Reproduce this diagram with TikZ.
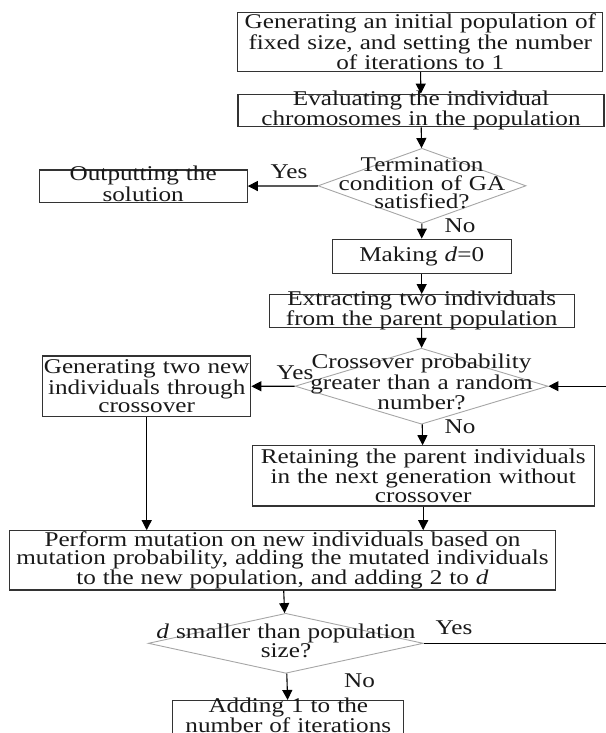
\documentclass[tikz,border=0pt]{standalone}
\usepackage{fontspec}
\setmainfont{Liberation Serif}[FakeStretch=1.2]
\usetikzlibrary{shapes.geometric,arrows.meta}

\newcommand\chartfont{\fontsize{21}{18.3}\selectfont}

\tikzset{
  box/.style={draw=black!80, line width=1.2pt, inner sep=0pt, align=center, font=\chartfont, text=black!90},
  snug/.style={text height=11pt, text depth=21.5pt},
  decision/.style={diamond, draw=black!35, line width=0.9pt, inner sep=0pt},
  dtext/.style={inner sep=0pt, align=center, text width=270pt, font=\chartfont, text=black!90},
  lbl/.style={inner sep=0pt, font=\chartfont, text=black!90},
  flow/.style={-{Triangle[length=10pt,width=10pt]}, line width=1.1pt, black}
}

\begin{document}
\begin{tikzpicture}[x=1pt, y=-1pt]
\useasboundingbox (0,0) rectangle (605,733);

% Main column
\node[box, text width=365pt, minimum height=59pt] (init) at (420.3,42) {Generating an initial population of\\fixed size, and setting the number\\of iterations to 1};
\node[box, snug, text width=366pt] (eval) at (421,110.5) {Evaluating the individual\\chromosomes in the population};
\node[decision, minimum width=208pt, minimum height=75pt] (term) at (422,185.8) {};
\node[dtext] (term-text) at (422,183.4) {Termination\\condition of GA\\satisfied?};
\node[box, snug, text width=208pt] (out) at (143.2,186.2) {Outputting the\\solution};
\node[box, text width=179pt, minimum height=34pt] (making) at (421.7,256.2) {Making \textit{d}=0};
\node[box, snug, text width=305pt] (extract) at (421.7,310.9) {Extracting two individuals\\from the parent population};
\node[decision, minimum width=253pt, minimum height=76pt] (cross) at (421.5,386.2) {};
\node[dtext] (cross-text) at (421.5,381.9) {Crossover probability\\greater than a random\\number?};
\node[box, text width=208pt, minimum height=60.5pt] (gen) at (146.7,386.3) {Generating two new\\individuals through\\crossover};
\node[box, text width=342pt, minimum height=60.3pt] (retain) at (423.2,475.9) {Retaining the parent individuals\\in the next generation without\\crossover};
\node[box, text width=546pt, minimum height=59.3pt] (mut) at (282.5,560.4) {Perform mutation on new individuals based on\\mutation probability, adding the mutated individuals\\to the new population, and adding 2 to \textit{d}};
\node[decision, minimum width=275pt, minimum height=60pt] (dsmall) at (285.8,643.3) {};
\node[dtext] (dsmall-text) at (286,640.8) {\textit{d} smaller than population\\size?};
\node[box, text width=231pt, text height=11.5pt, text depth=28.5pt, anchor=north] (adding) at (288.3,700) {Adding 1 to the\\number of iterations};

% Yes / No
\node[lbl] (term-yes) at (289,172) {Yes};
\node[lbl] (term-no) at (460,226) {No};
\node[lbl] (cross-yes) at (295,373) {Yes};
\node[lbl] (cross-no) at (460,427) {No};
\node[lbl] (dsmall-yes) at (454,628) {Yes};
\node[lbl] (dsmall-no) at (359.5,681) {No};

% Connectors
\draw[flow] (init) -- (eval);
\draw[flow] (eval) -- (term);
\draw[flow] (term) -- (out);
\draw[flow] (term) -- (making);
\draw[flow] (making) -- (extract);
\draw[flow] (extract) -- (cross);
\draw[flow] (cross) -- (gen);
\draw[flow] (cross) -- (retain);
\draw[flow] (gen.south) -- (gen.south |- mut.north);
\draw[flow] (retain.south) -- (retain.south |- mut.north);
\draw[flow] (mut) -- (dsmall);
\draw[flow] (dsmall) -- (adding);
\coordinate (back) at (640,643.3);
\draw[flow] (dsmall.east) -- (back) |- (cross.east);

\end{tikzpicture}
\end{document}
